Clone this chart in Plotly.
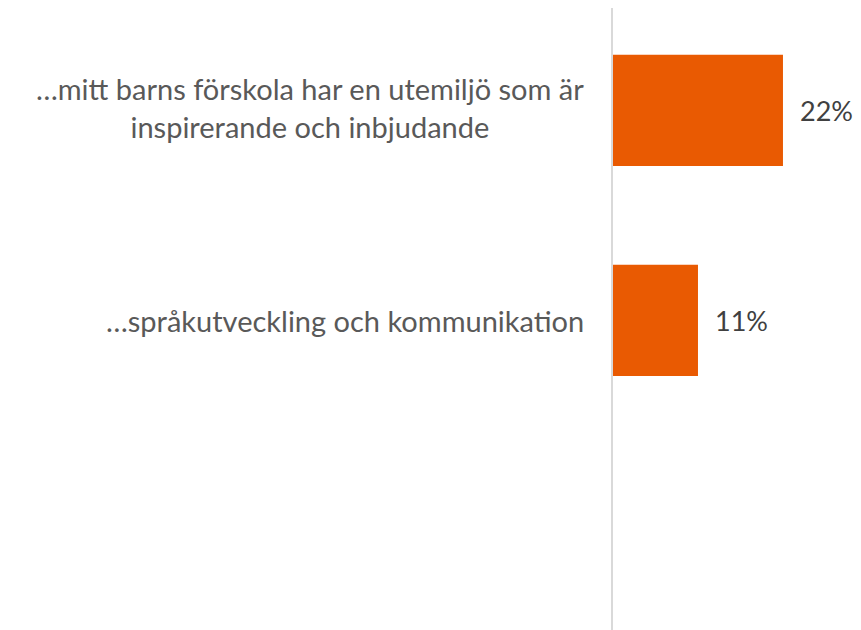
import plotly.graph_objects as go

categories = ["…mitt barns förskola har en utemiljö som är<br>inspirerande och inbjudande",
              "…språkutveckling och kommunikation",
              ""]
values = [0.22, 0.11, None]
value_labels = ["22%", "11%", ""]

# page has an 8px body margin, so the figure is drawn 8px smaller
W, H = 853, 622
x0 = 605
FONT = "Lato, 'Open Sans', sans-serif"

fig = go.Figure()
fig.add_trace(go.Bar(
    y=list(range(len(categories))), x=values, orientation="h",
    marker=dict(color="#E95A02", line=dict(width=0)),
    width=0.53, showlegend=False, hoverinfo="skip"))

ann = []
for i, (c, v, t) in enumerate(zip(categories, values, value_labels)):
    if c:
        ann.append(dict(x=0, xref="x domain", y=i, yref="y", text=c, showarrow=False,
                        xanchor="right", yanchor="middle", align="center", xshift=-27,
                        yshift=3 if "<br>" in c else 0,
                        font=dict(family=FONT, size=29, color="#595959")))
    if v is not None:
        ann.append(dict(x=v, xref="x", y=i, yref="y", text=t, showarrow=False,
                        xanchor="left", yanchor="middle", xshift=15,
                        font=dict(family=FONT, size=27, color="#404040")))

fig.update_layout(
    width=W, height=H, margin=dict(l=0, r=0, t=0, b=0),
    paper_bgcolor="white", plot_bgcolor="white",
    xaxis=dict(domain=[x0 / W, 1], range=[0, 0.321], showgrid=False, zeroline=False,
               showticklabels=False, ticks=""),
    yaxis=dict(range=[2.474, -0.488], showgrid=False, zeroline=False, showticklabels=False,
               ticks="", showline=True, linecolor="#D9D9D9", linewidth=2),
    annotations=ann,
)
fig.write_html("out.html")
